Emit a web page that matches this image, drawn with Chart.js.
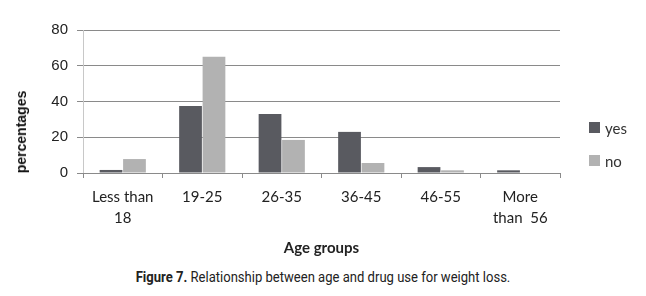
<!DOCTYPE html>
<html>
<head>
<meta charset="utf-8">
<script src="https://cdn.jsdelivr.net/npm/chart.js@4.4.1/dist/chart.umd.min.js"></script>
<style>
  html, body { margin: 0; padding: 0; background: #fff; }
  #wrap { position: relative; width: 646px; height: 296px; }
  #box { position: absolute; left: 0; top: 0; width: 646px; height: 262px; }
  #ytitle {
    position: absolute; left: 21px; top: 132px;
    transform: translate(-50%, -50%) rotate(-90deg);
    font: bold 14px 'Liberation Sans', Arial, sans-serif; color: #111; white-space: nowrap;
  }
  #legend { position: absolute; left: 589px; top: 119px; font: 15px Lato, sans-serif; color: #333; }
  #legend div { display: flex; align-items: center; height: 17px; margin-bottom: 16px; }
  #legend span.sw { display: inline-block; width: 11px; height: 11px; margin-right: 5px; }
  #caption {
    position: absolute; left: 0; width: 646px; top: 268px; text-align: center;
    font: 15px Roboto, sans-serif; color: #222; transform: scaleX(0.87); white-space: nowrap;
  }
  #caption b { font-weight: bold; }
</style>
</head>
<body>
<div id="wrap">
  <div id="box"><canvas id="chart"></canvas></div>
  <div id="ytitle">percentages</div>
  <div id="legend"></div>
  <div id="caption"><b>Figure 7.</b> Relationship between age and drug use for weight loss.</div>
</div>
<script>
  const categories = [['Less than', '18'], '19-25', '26-35', '36-45', '46-55', ['More', 'than  56']]
  const yesValues = [1.7, 37.5, 33, 23, 3.3, 1.5]
  const noValues  = [7.8, 65, 18.5, 5.6, 1.5, 0]
  const seriesNames = ['yes', 'no']
  const seriesColors = ['#595a60', '#b2b2b2']
  const yTicks = [0, 20, 40, 60, 80]

  const canvas = document.getElementById('chart')
  canvas.width = 646
  canvas.height = 262

  new Chart(canvas, {
    type: 'bar',
    data: {
      labels: categories,
      datasets: [
        { label: seriesNames[0], data: yesValues, backgroundColor: seriesColors[0] },
        { label: seriesNames[1], data: noValues, backgroundColor: seriesColors[1] }
      ]
    },
    options: {
      responsive: false,
      animation: false,
      devicePixelRatio: 1,
      categoryPercentage: 0.59,
      barPercentage: 0.97,
      layout: { padding: { top: 30, right: 86, left: 0, bottom: 0 } },
      plugins: { legend: { display: false }, tooltip: { enabled: false } },
      scales: {
        y: {
          min: 0, max: 80,
          afterBuildTicks: s => { s.ticks = yTicks.map(v => ({ value: v })) },
          afterFit: s => { s.width = 83 },
          ticks: { color: '#222', padding: 9, font: { family: 'Liberation Sans, Arial', size: 15 } },
          grid: { color: '#8a8a8a', lineWidth: 1, tickLength: 6 },
          border: { color: '#c8c8c8' }
        },
        x: {
          afterFit: s => { s.height = 89 },
          ticks: {
            color: '#222', padding: 8, maxRotation: 0, autoSkip: false,
            font: { family: 'Lato', size: 15, lineHeight: 1.45 }
          },
          grid: { display: true, drawOnChartArea: false, offset: true, color: '#8a8a8a', tickLength: 5 },
          border: { color: '#8a8a8a' },
          title: {
            display: true, text: 'Age groups', color: '#222',
            font: { family: 'Lato', size: 15, weight: 'bold' },
            padding: { top: 0, bottom: 5 }
          }
        }
      }
    }
  })

  document.getElementById('legend').innerHTML = seriesNames.map((n, i) =>
    `<div><span class="sw" style="background:${seriesColors[i]}"></span>${n}</div>`).join('')
</script>
</body>
</html>
